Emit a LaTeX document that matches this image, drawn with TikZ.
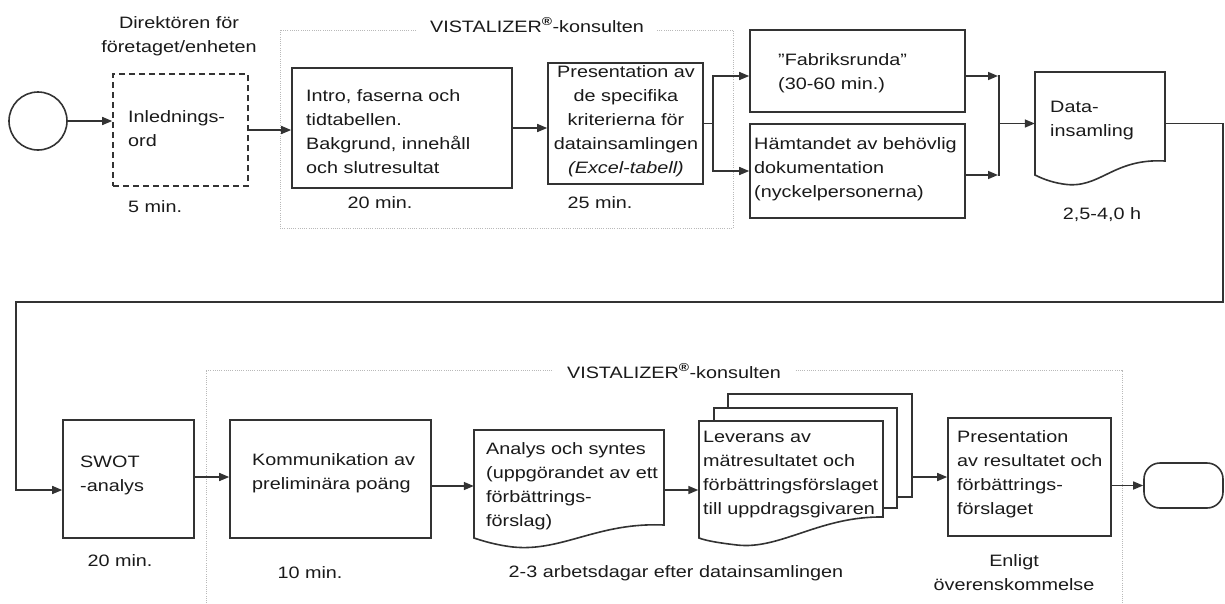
\documentclass[tikz,border=0pt]{standalone}
\usepackage{fontspec}
\setmainfont{Liberation Sans}[FakeStretch=1.2]
\usetikzlibrary{arrows.meta,calc}
\definecolor{lc}{HTML}{333333}
\definecolor{tc}{HTML}{1A1A1A}
\newcommand\fs{\fontsize{16.5}{24}\selectfont}
\tikzset{
  box/.style={draw=lc,line width=1.6pt,rectangle,inner sep=0pt,fill=white},
  ghost/.style={draw=none,rectangle,inner sep=0pt},
  docline/.style={draw=lc,line width=1.6pt,fill=white,line join=miter},
  conn/.style={draw=lc,line width=1.5pt},
  arr/.style={conn,-{Triangle[length=10pt,width=8pt]}},
  cont/.style={draw=gray!55,line width=1pt,dash pattern=on 1pt off 1.2pt},
  txt/.style={align=left,inner sep=0pt,font=\fs,text=tc},
  ctxt/.style={align=center,inner sep=0pt,font=\fs,text=tc},
}
\begin{document}
\begin{tikzpicture}[x=1pt,y=-1pt]
\useasboundingbox (0,0) rectangle (1225,603);
% containers
\draw[cont] (280,30) rectangle (733,228);
\node[ctxt,fill=white,inner xsep=13pt,inner ysep=2pt] (vis1) at (537,25) {VISTALIZER\textsuperscript{\textbf{®}}-konsulten};
\draw[cont] (206,612) -- (206,370) -- (1122,370) -- (1122,612);
\node[ctxt,fill=white,inner xsep=13pt,inner ysep=2pt] (vis2) at (674,371) {VISTALIZER\textsuperscript{\textbf{®}}-konsulten};

% top row
\node[circle,draw=lc,line width=1.6pt,minimum size=58pt,inner sep=0pt] (start) at (38,121) {};
\node[ctxt] (dir) at (179,36.5) {Direktören för\\företaget/enheten};
\node[box,dash pattern=on 6pt off 4pt,minimum width=135pt,minimum height=112pt] (inl) at (180.5,130) {};
\node[txt,anchor=west] (inlt) at (128,129) {Inlednings-\\ord};
\node[txt,anchor=west] (t5) at (128,207) {5 min.};

\node[box,minimum width=220pt,minimum height=120pt] (intro) at (402,128) {};
\node[txt,anchor=west] (introt) at (306,132) {Intro, faserna och\\tidtabellen.\\Bakgrund, innehåll\\och slutresultat};
\node[ctxt] (t20a) at (380,203) {20 min.};

\node[box,minimum width=155pt,minimum height=121pt] (pres1) at (625.5,123.5) {};
\node[ctxt] (pres1t) at (626,121) {Presentation av\\de specifika\\kriterierna för\\datainsamlingen\\\textit{(Excel-tabell)}};
\node[ctxt] (t25) at (600,203) {25 min.};

\node[box,minimum width=215pt,minimum height=82pt] (fab) at (857.5,71) {};
\node[txt,anchor=west] (fabt) at (778,73) {"Fabriksrunda"\\(30-60 min.)};
\node[box,minimum width=215pt,minimum height=94pt] (hamt) at (857.5,171) {};
\node[txt,anchor=west] (hamtt) at (754,169) {Hämtandet av behövlig\\dokumentation\\(nyckelpersonerna)};

\node[ghost,minimum width=130pt,minimum height=103pt] (data) at (1100,123.5) {};
\draw[docline] (1035,72) -- (1165,72) -- (1165,161) .. controls (1112,158) and (1100,190) .. (1063,184) .. controls (1050,182) and (1041,178) .. (1035,175) -- cycle;
\node[txt,anchor=west] (datat) at (1050,120.5) {Data-\\insamling};
\node[ctxt] (t25h) at (1102,215) {2,5-4,0 h};

% bottom row
\node[box,minimum width=131pt,minimum height=118pt] (swot) at (128.5,479) {};
\node[txt,anchor=west] (swott) at (80,475.5) {SWOT\\-analys};
\node[ctxt] (t20b) at (120,561) {20 min.};

\node[box,minimum width=201pt,minimum height=118pt] (komm) at (330.5,479) {};
\node[txt,anchor=west] (kommt) at (252,473.5) {Kommunikation av\\preliminära poäng};
\node[ctxt] (t10) at (310,573) {10 min.};

\node[ghost,minimum width=190pt,minimum height=117pt] (analys) at (569,488.5) {};
\draw[docline] (474,430) -- (664,430) -- (664,525) .. controls (598,522) and (562,552) .. (513,547) .. controls (496,545) and (483,541) .. (474,538) -- cycle;
\node[txt,anchor=west] (analyst) at (486,486.5) {Analys och syntes\\(uppgörandet av ett\\förbättrings-\\förslag)};
\node[ctxt] (t23) at (676,573) {2-3 arbetsdagar efter datainsamlingen};

\node[ghost,minimum width=214pt,minimum height=151pt] (lev) at (805.5,469.5) {};
\draw[docline] (728,394) rectangle (912,497);
\draw[docline] (714,408) rectangle (897,508);
\draw[docline] (699,421) -- (883,421) -- (883,517) .. controls (820,516) and (780,550) .. (737,545) .. controls (720,543) and (707,541) .. (699,538) -- cycle;
\node[txt,anchor=west] (levt) at (703,475) {Leverans av\\mätresultatet och\\förbättringsförslaget\\till uppdragsgivaren};

\node[box,minimum width=163pt,minimum height=118pt] (pres2) at (1029.5,477) {};
\node[txt,anchor=west] (pres2t) at (957,474) {Presentation\\av resultatet och\\förbättrings-\\förslaget};
\node[ctxt] (tenl) at (1014,573) {Enligt\\överenskommelse};

\node[draw=lc,line width=1.6pt,rectangle,rounded corners=16pt,minimum width=79pt,minimum height=45pt,inner sep=0pt] (term) at (1183.5,485.5) {};

% connectors
\draw[arr] (start.east) -- (start.east -| inl.west);
\draw[arr] (inl.east) -- (inl.east -| intro.west);
\draw[arr] (intro.east) -- (intro.east -| pres1.west);
\coordinate (split) at (713,123.5);
\draw[conn] (pres1.east) -- (split);
\draw[arr] (split) |- ([yshift=-5pt]fab.west);
\draw[arr] (split) |- (hamt.west);
\coordinate (mA) at (998,76);
\coordinate (mB) at (998,175);
\coordinate (mC) at (999,123.5);
\draw[arr] ([yshift=-5pt]fab.east) -- (mA);
\draw[arr] ([yshift=-4pt]hamt.east) -- (mB);
\draw[conn] (999,75.25) -- (999,175.75);
\draw[arr] (mC) -- (mC -| data.west);
\coordinate (turnR) at (1223,302);
\coordinate (turnL) at (16,490);
\draw[arr] (data.east) -| (turnR) -| (turnL) -- (turnL -| swot.west);
\draw[arr] ([yshift=2pt]swot.east) -- ([yshift=2pt]swot.east -| komm.west);
\draw[arr] ([yshift=-7pt]komm.east) -- ([yshift=-7pt]komm.east -| analys.west);
\draw[arr] ([yshift=-1.5pt]analys.east) -- ([yshift=-1.5pt]analys.east -| lev.west);
\draw[arr] ([yshift=-7.5pt]lev.east) -- ([yshift=-7.5pt]lev.east -| pres2.west);
\draw[arr] (term.west -| pres2.east) -- (term.west);
\end{tikzpicture}
\end{document}
